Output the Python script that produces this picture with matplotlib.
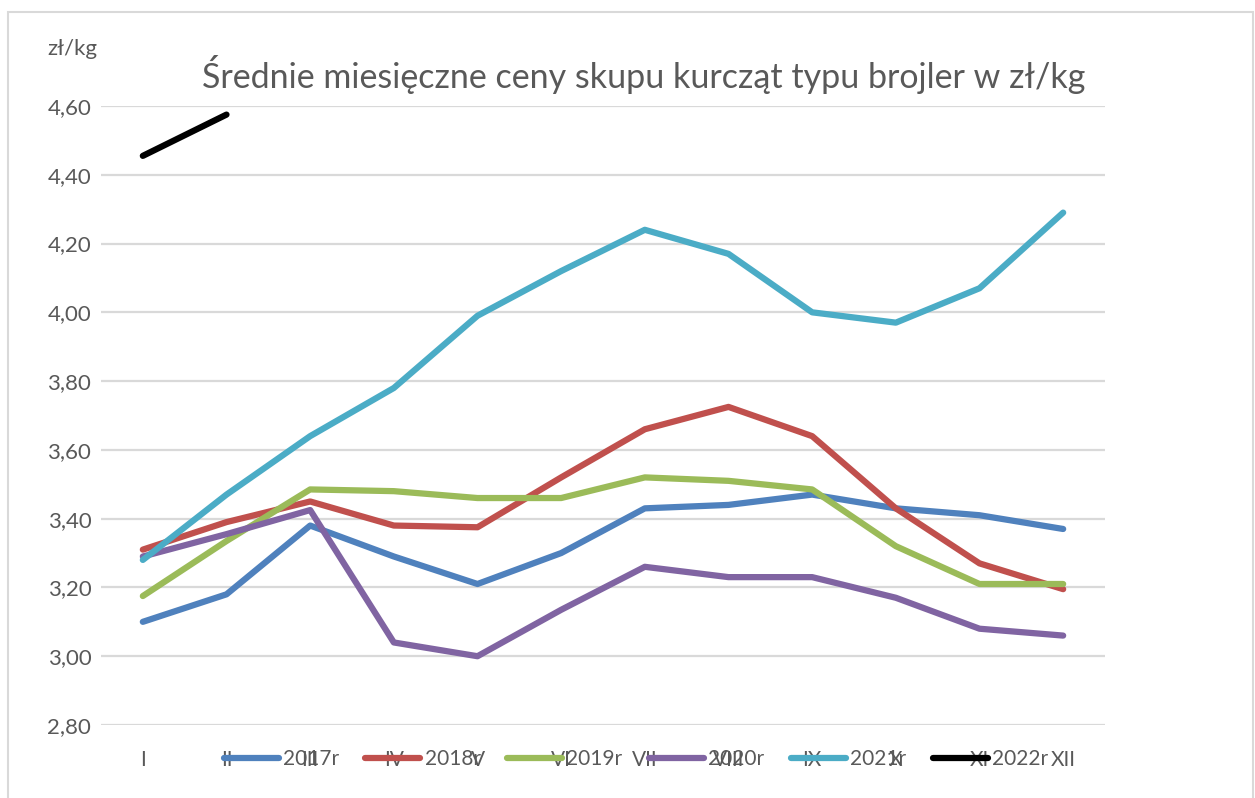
import matplotlib.pyplot as plt
from matplotlib.patches import Rectangle

# data
months = ['I', 'II', 'III', 'IV', 'V', 'VI', 'VII', 'VIII', 'IX', 'X', 'XI', 'XII']
p2017 = [3.10, 3.18, 3.38, 3.29, 3.21, 3.30, 3.43, 3.44, 3.47, 3.43, 3.41, 3.37]
p2018 = [3.31, 3.39, 3.45, 3.38, 3.375, 3.52, 3.66, 3.725, 3.64, 3.43, 3.27, 3.195]
p2019 = [3.175, 3.335, 3.485, 3.48, 3.46, 3.46, 3.52, 3.51, 3.485, 3.32, 3.21, 3.21]
p2020 = [3.29, 3.355, 3.425, 3.04, 3.00, 3.135, 3.26, 3.23, 3.23, 3.17, 3.08, 3.06]
p2021 = [3.28, 3.47, 3.64, 3.78, 3.99, 4.12, 4.24, 4.17, 4.00, 3.97, 4.07, 4.29]
p2022 = [4.455, 4.575]

years = ['2017r', '2018r', '2019r', '2020r', '2021r', '2022r']
colors = ['#4F81BD', '#C0504D', '#9BBB59', '#8064A2', '#4BACC6', '#000000']


def main():
    plt.rcParams['font.family'] = ['Lato', 'DejaVu Sans']
    grey = '#595959'

    fig = plt.figure(figsize=(12.55, 7.98), dpi=100)
    ax = fig.add_axes([101 / 1255, 1 - 725 / 798, 1004 / 1255, 619 / 798])

    series = [p2017, p2018, p2019, p2020, p2021, p2022]
    for vals, name, col in zip(series, years, colors):
        ax.plot(range(len(vals)), vals, color=col, lw=4.5, label=name,
                solid_capstyle='round', solid_joinstyle='round', zorder=3)

    ax.set_xlim(-0.5, 11.5)
    ax.set_ylim(2.8, 4.6)
    yt = [2.8 + 0.2 * i for i in range(10)]
    ax.set_yticks(yt)
    ax.set_yticklabels([f'{v:.2f}'.replace('.', ',') for v in yt])
    ax.set_xticks(range(12))
    ax.set_xticklabels(months)
    ax.grid(axis='y', color='#D9D9D9', lw=1.6)
    ax.set_axisbelow(True)
    for s in ax.spines.values():
        s.set_visible(False)
    ax.tick_params(axis='y', length=0, pad=7, labelsize=16, labelcolor=grey)
    ax.tick_params(axis='x', length=0, pad=18, labelsize=15, labelcolor=grey)

    fig.text(644 / 1255, 1 - 74 / 798,
             'Średnie miesięczne ceny skupu kurcząt typu brojler w zł/kg',
             ha='center', va='center', fontsize=24.5, color=grey)
    fig.text(72 / 1255, 1 - 49 / 798, 'zł/kg', ha='center', va='center',
             fontsize=16, color=grey)

    fig.legend(loc='center', bbox_to_anchor=(636 / 1255, 1 - 759 / 798),
               ncol=6, frameon=False, fontsize=15, labelcolor=grey,
               handlelength=2.64, handletextpad=0.2, columnspacing=1.28,
               borderpad=0, borderaxespad=0)

    fig.patches.append(Rectangle((8 / 1255, -0.1), 1245 / 1255, 1.1 - 12 / 798,
                                 transform=fig.transFigure, fill=False,
                                 edgecolor='#D9D9D9', lw=1.5))

    fig.savefig('out.png', dpi=100)


if __name__ == '__main__':
    main()
